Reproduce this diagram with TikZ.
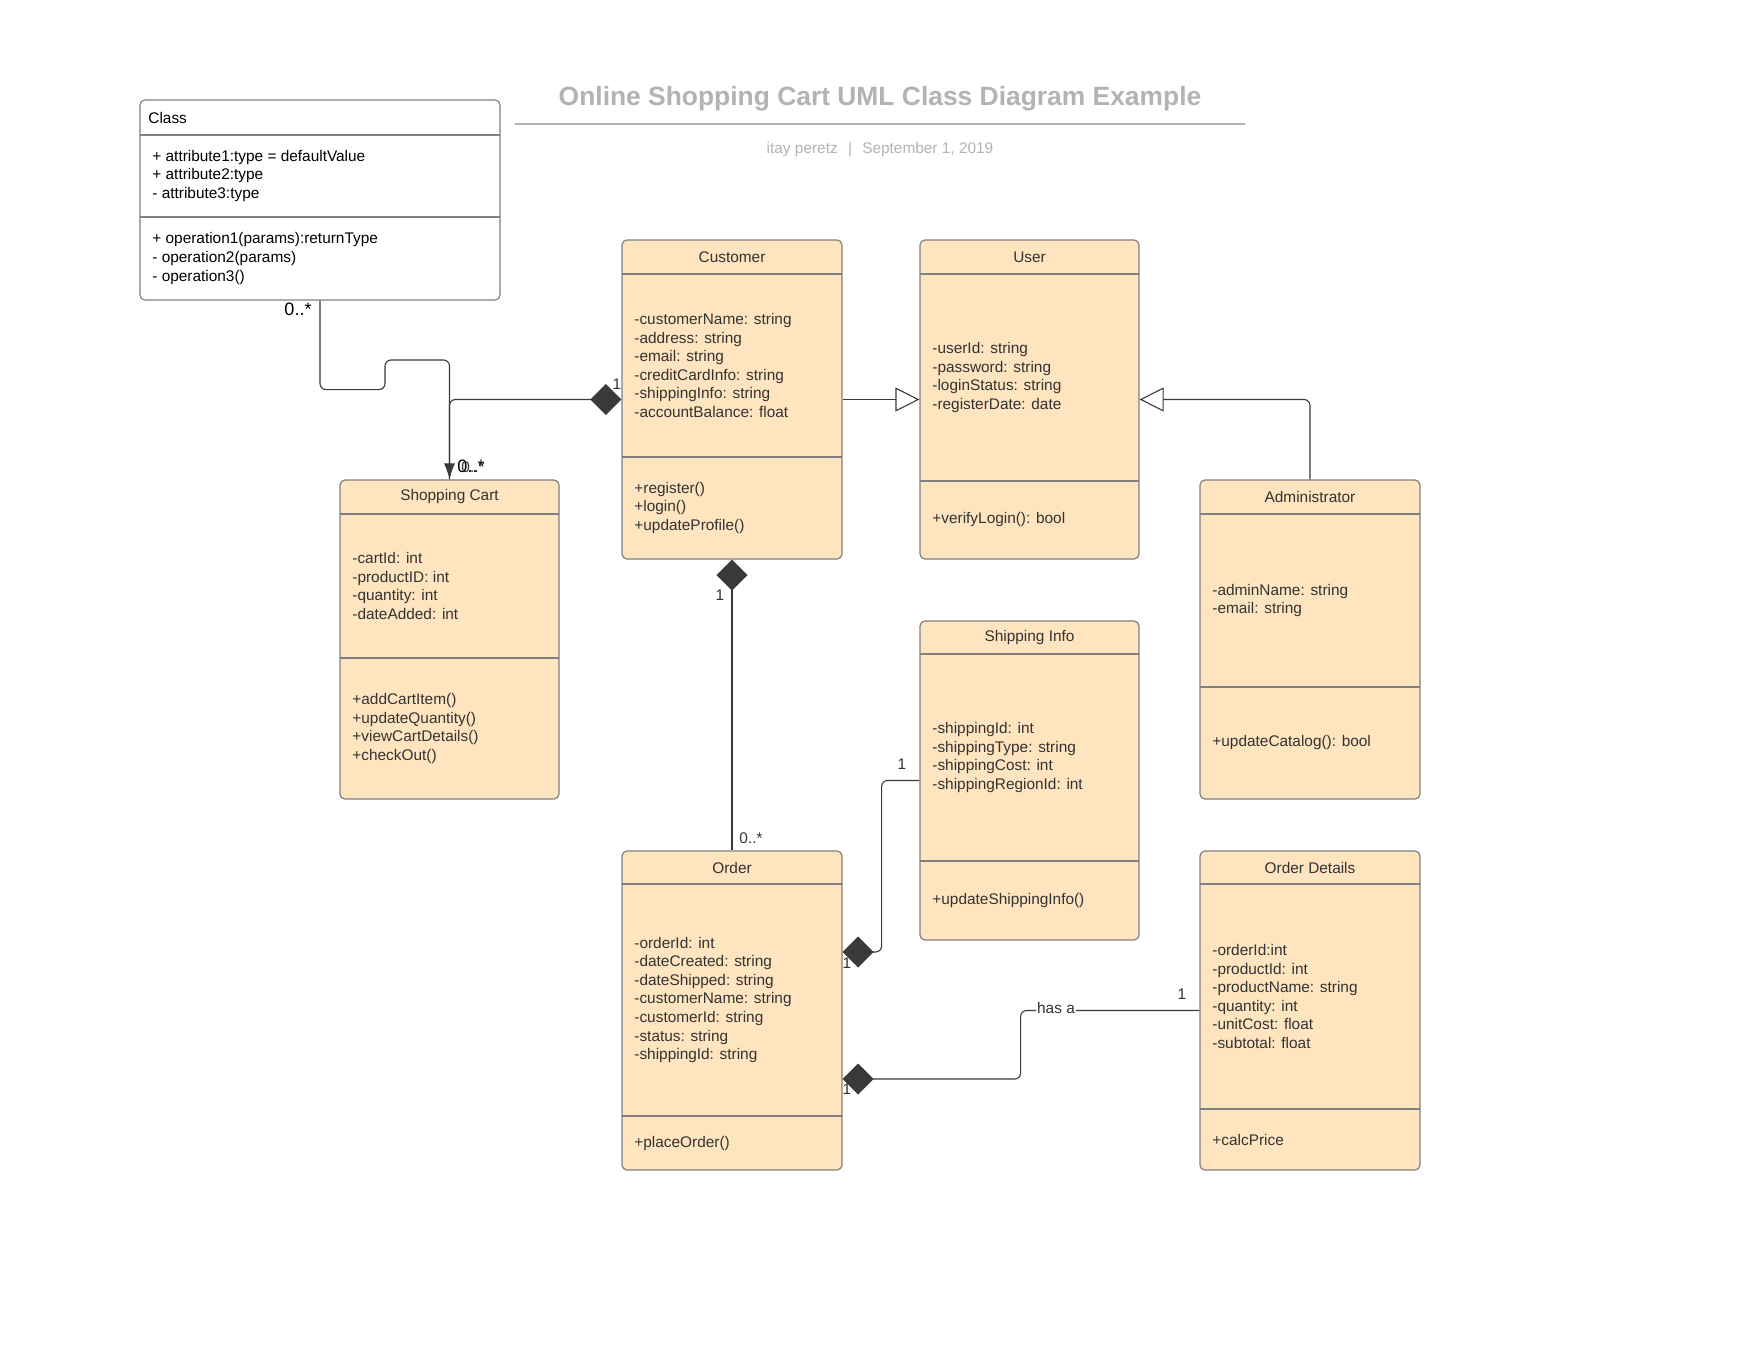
\documentclass[tikz,border=0pt]{standalone}
\usepackage{fontspec}
\setmainfont{Liberation Sans}
\usetikzlibrary{arrows.meta,fit}
\definecolor{boxfill}{HTML}{FFE4C0}
\definecolor{boxline}{HTML}{808080}
\definecolor{txtgray}{HTML}{333333}
\definecolor{lnkgray}{HTML}{3A3A3A}
\definecolor{ttlgray}{HTML}{B3B3B3}
\newcommand{\umlfont}{\fontsize{7.7}{9.3}\selectfont}
\def\umlbox[#1](#2)(#3,#4)(#5,#6)(#7,#8){%
	\node[umlbox,#1,fit={(#3,#4) (#5,#6)}] (#2) {};
	\draw[divline] (#3,#7) -- (#5,#7);
	\draw[divline] (#3,#8) -- (#5,#8);
	\coordinate (#2-h) at ({(#3+#5)/2},{(#4+#7)/2});
	\coordinate (#2-a) at (#3+12,{(#7+#8)/2});
	\coordinate (#2-m) at (#3+12,{(#8+#6)/2});
}
\tikzset{
	umlbox/.style={draw=boxline, fill=boxfill, line width=0.6pt, rounded corners=2.5pt, inner sep=0pt},
	divline/.style={draw=boxline, line width=0.6pt},
	umltext/.style={font=\umlfont, text=txtgray, align=left, anchor=west, inner sep=0pt},
	umlhead/.style={font=\umlfont, text=txtgray, inner sep=0pt},
	mult/.style={font=\umlfont, text=txtgray, inner sep=0pt},
	multbig/.style={font=\fontsize{9}{10}\selectfont, text=black, inner sep=0pt},
	link/.style={draw=lnkgray, line width=0.55pt, rounded corners=3pt},
	compose/.style={{Diamond[length=15.5pt,width=15.5pt,fill=lnkgray]}-},
	generalize/.style={-{Triangle[open,length=12pt,width=12pt]}},
	navigate/.style={-{Latex[length=8pt,width=5.5pt]}},
}

\begin{document}
\begin{tikzpicture}[x=0.5pt,y=-0.5pt]
		%%%%% START %%%%%
		
		\fill[white] (0,0) rectangle (1760,1360);
		\useasboundingbox (0,0) rectangle (1760,1360);
		
		\node[font=\fontsize{13.2}{15}\selectfont\bfseries, text=ttlgray] (title) at (880,99) {Online Shopping Cart UML Class Diagram Example};
		\draw[ttlgray, line width=1pt] (515,124) -- (1245,124);
		\node[umlhead, text=ttlgray] (byline) at (880,150) {itay peretz\hspace{3pt} | \hspace{3pt}September 1, 2019};
		
		\umlbox[fill=white](class)(140,100)(500,300)(135,217)
		\node[umlhead, anchor=west, text=black, xshift=-2pt] (class-name) at (class-a |- class-h) {Class};
		\node[umltext, text=black] (class-attr) at (class-a) {+ attribute1:type = defaultValue\\+ attribute2:type\\- attribute3:type};
		\node[umltext, text=black] (class-ops) at (class-m) {+ operation1(params):returnType\\- operation2(params)\\- operation3()};
		
		\umlbox[](cust)(622,240)(842,559)(274,457)
		\node[umlhead] (cust-name) at (cust-h) {Customer};
		\node[umltext] (cust-attr) at (cust-a) {-customerName: string\\-address: string\\-email: string\\-creditCardInfo: string\\-shippingInfo: string\\-accountBalance: float};
		\node[umltext] (cust-ops) at (cust-m) {+register()\\+login()\\+updateProfile()};
		
		\umlbox[](user)(920,240)(1139,559)(274,481)
		\node[umlhead] (user-name) at (user-h) {User};
		\node[umltext] (user-attr) at (user-a) {-userId: string\\-password: string\\-loginStatus: string\\-registerDate: date};
		\node[umltext] (user-ops) at (user-m) {+verifyLogin(): bool};
		
		\umlbox[](cart)(340,480)(559,799)(514,658)
		\node[umlhead] (cart-name) at (cart-h) {Shopping Cart};
		\node[umltext] (cart-attr) at (cart-a) {-cartId: int\\-productID: int\\-quantity: int\\-dateAdded: int};
		\node[umltext] (cart-ops) at (cart-m) {+addCartItem()\\+updateQuantity()\\+viewCartDetails()\\+checkOut()};
		
		\umlbox[](admin)(1200,480)(1420,799)(514,687)
		\node[umlhead] (admin-name) at (admin-h) {Administrator};
		\node[umltext] (admin-attr) at (admin-a) {-adminName: string\\-email: string};
		\node[umltext] (admin-ops) at (admin-m) {+updateCatalog(): bool};
		
		\umlbox[](ship)(920,621)(1139,940)(654,861)
		\node[umlhead] (ship-name) at (ship-h) {Shipping Info};
		\node[umltext] (ship-attr) at (ship-a) {-shippingId: int\\-shippingType: string\\-shippingCost: int\\-shippingRegionId: int};
		\node[umltext] (ship-ops) at (ship-m) {+updateShippingInfo()};
		
		\umlbox[](order)(622,851)(842,1170)(884,1116)
		\node[umlhead] (order-name) at (order-h) {Order};
		\node[umltext] (order-attr) at (order-a) {-orderId: int\\-dateCreated: string\\-dateShipped: string\\-customerName: string\\-customerId: string\\-status: string\\-shippingId: string};
		\node[umltext] (order-ops) at (order-m) {+placeOrder()};
		
		\umlbox[](det)(1200,851)(1420,1170)(884,1109)
		\node[umlhead] (det-name) at (det-h) {Order Details};
		\node[umltext] (det-attr) at (det-a) {-orderId:int\\-productId: int\\-productName: string\\-quantity: int\\-unitCost: float\\-subtotal: float};
		\node[umltext] (det-ops) at (det-m) {+calcPrice};
		
		% connectors
		\draw[link, navigate] (class.south) |- ++(65,89) |- (cart.north |- 0,360) -- (cart.north);
		\draw[link, compose] (cust.west) -| (cart.north);
		\draw[link, generalize] (cust.east) -- (user.west);
		\draw[link, generalize] (admin.north) |- (user.east);
		\draw[link, compose] (cust.south) -- (order.north);
		\draw[link, compose] (order.east |- 0,952) -- ++(39,0) |- (ship.west);
		\draw[link, compose] (order.east |- 0,1079) -- ++(178,0) |- (det.west);
		
		% multiplicities
		\node[multbig] (m-class) at (298,309) {0..*};
		\node[multbig] (m-cart) at (471,466) {0..*};
		\node[mult] (m-cart2) at (473,467) {0..*};
		\node[mult] (m-cust) at (617,384) {1};
		\node[mult] (m-cust2) at (720,595) {1};
		\node[mult] (m-order) at (751,838) {0..*};
		\node[mult] (m-ship) at (902,764) {1};
		\node[mult] (m-order2) at (847,963) {1};
		\node[mult] (m-order3) at (847,1089) {1};
		\node[mult] (m-det) at (1182,994) {1};
		\node[mult, fill=white, inner xsep=0.5pt] (has-a) at (1056,1008) {has a};
		
		%%%%% END %%%%%
	\end{tikzpicture}
\end{document}
